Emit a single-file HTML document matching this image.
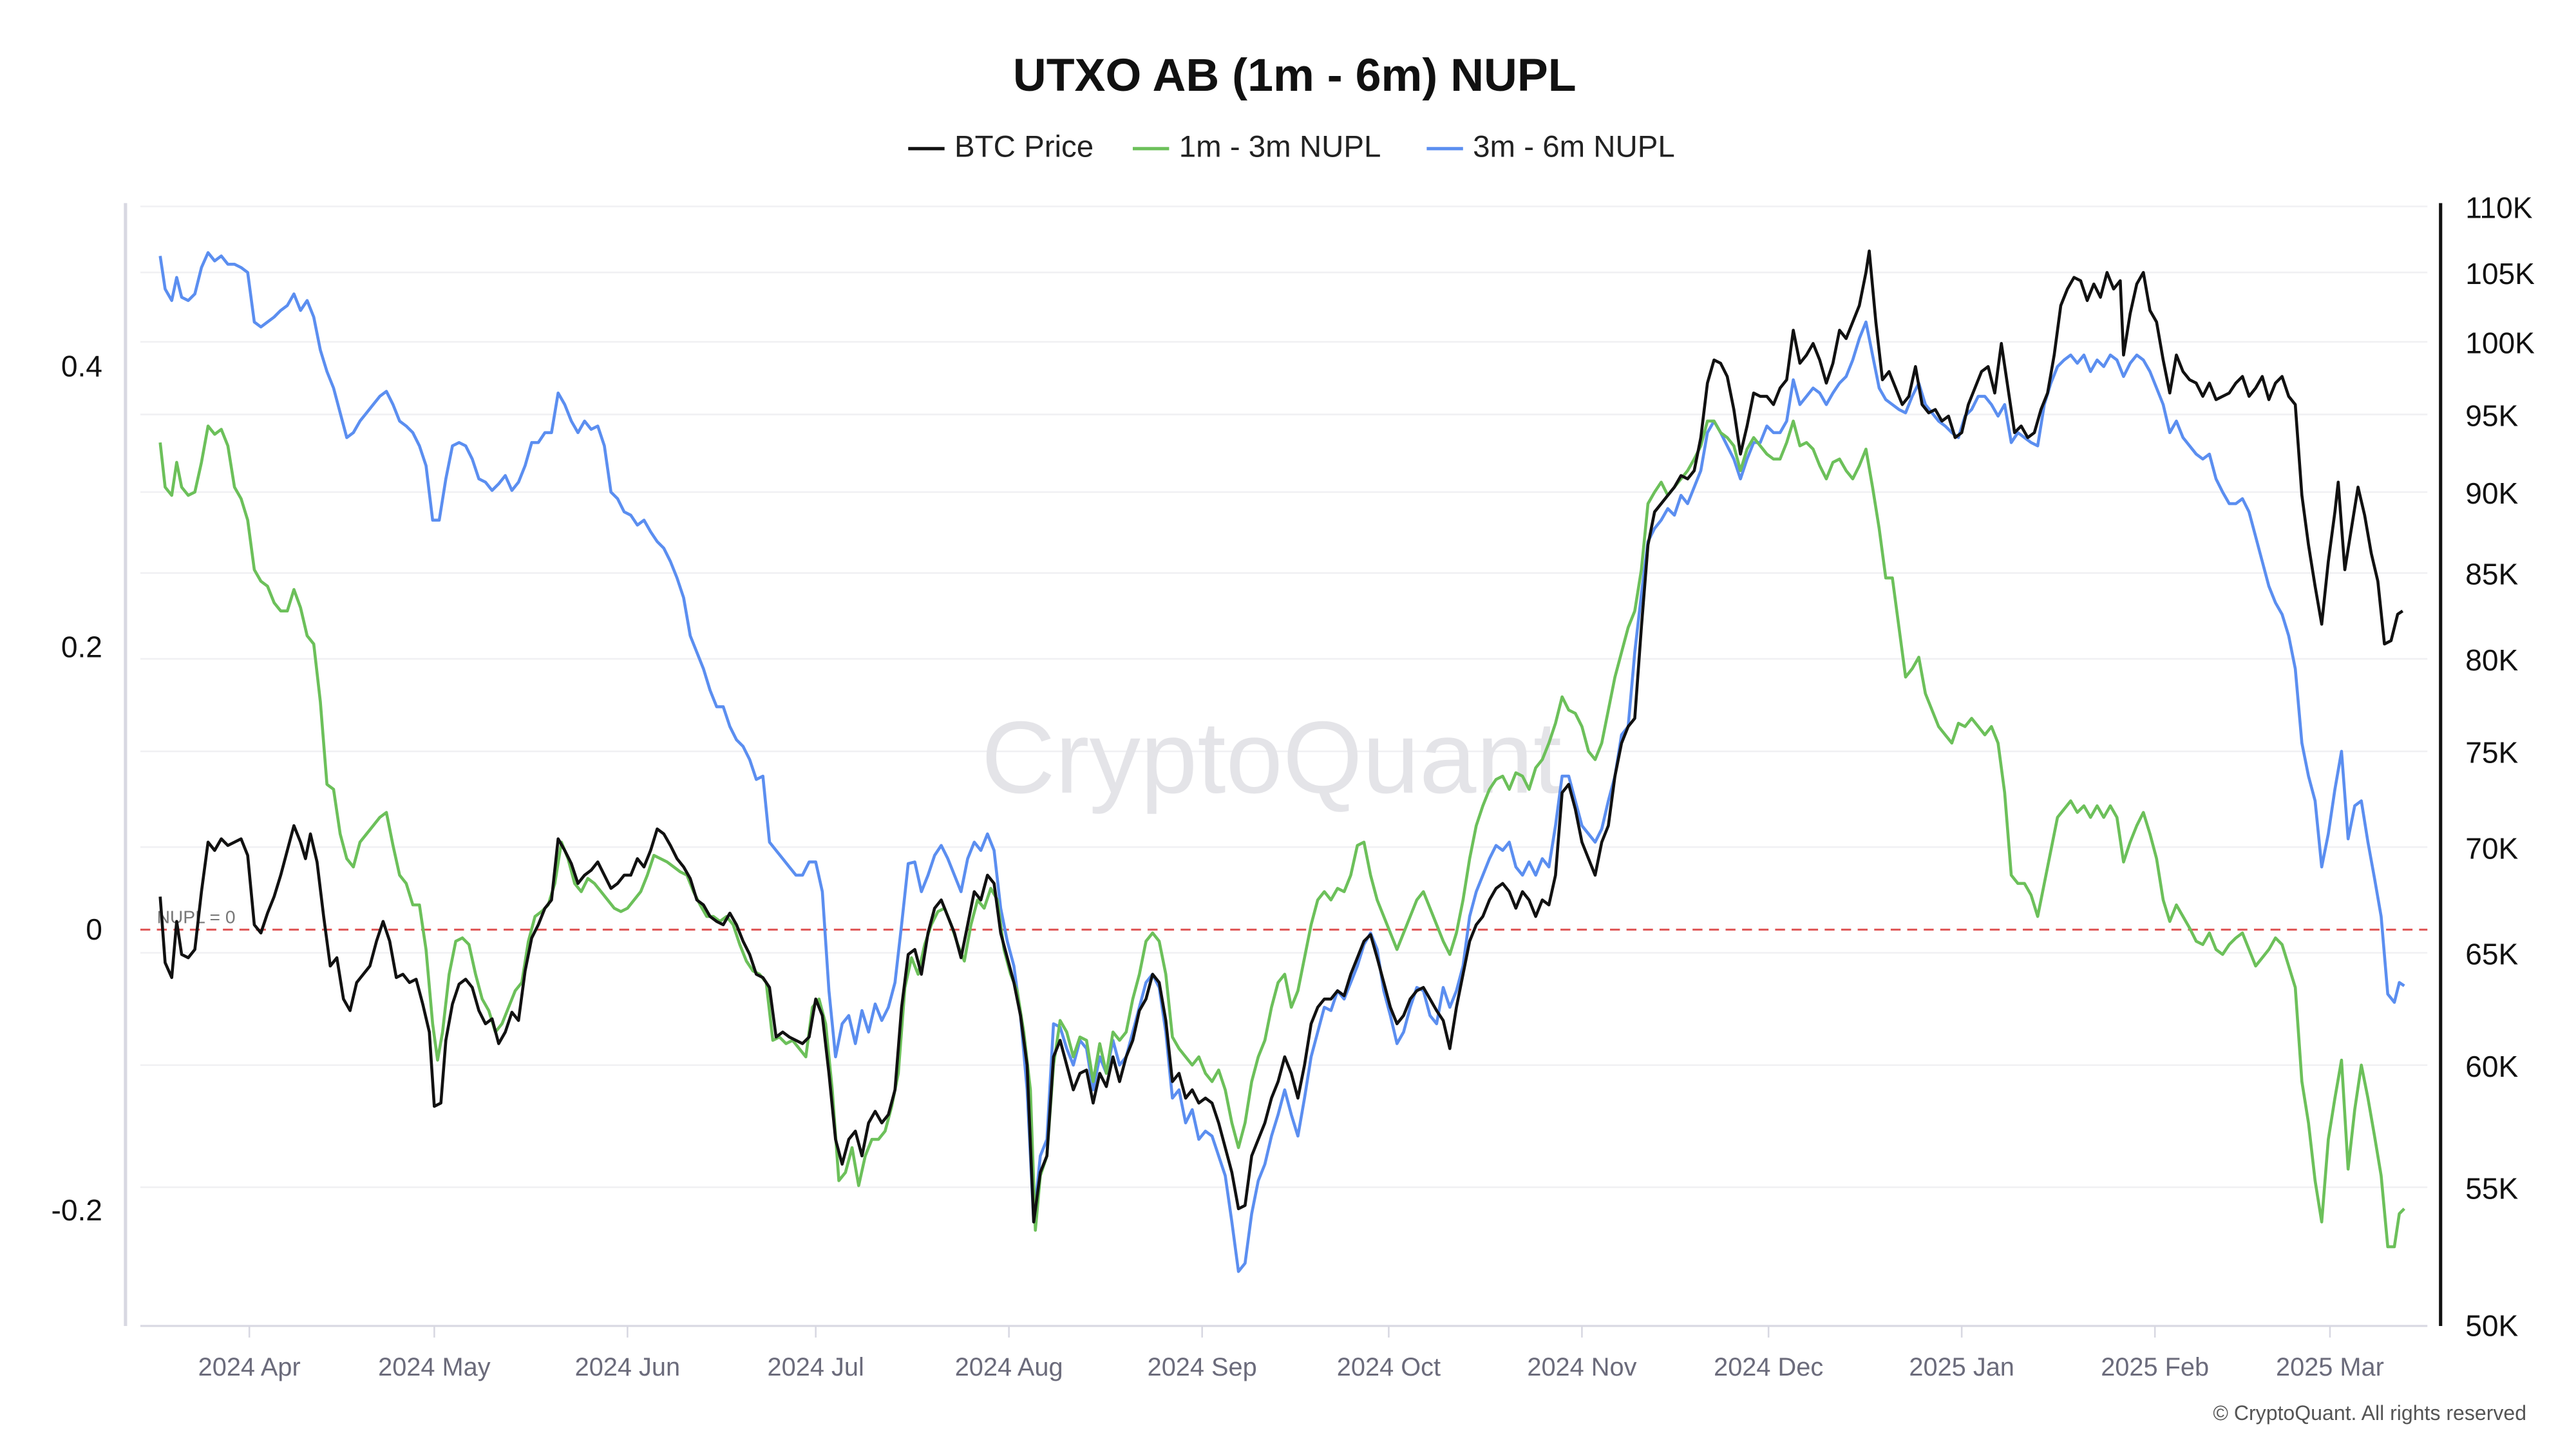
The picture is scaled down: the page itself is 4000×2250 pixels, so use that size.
<!DOCTYPE html>
<html><head><meta charset="utf-8"><style>
html,body{margin:0;padding:0;background:#fff;}
svg{display:block;}
text{font-family:"Liberation Sans",sans-serif;}
</style></head><body>
<svg width="4000" height="2250" viewBox="0 0 1560 877.5" xmlns="http://www.w3.org/2000/svg">
<rect width="1560" height="877.5" fill="#fff"/>
<text x="784" y="55" text-anchor="middle" font-size="28" font-weight="bold" fill="#111">UTXO AB (1m - 6m) NUPL</text>
<line x1="550" y1="90" x2="572" y2="90" stroke="#111" stroke-width="2"/>
<text x="578" y="95" font-size="18.5" fill="#222">BTC Price</text>
<line x1="686" y1="90" x2="708" y2="90" stroke="#6cc05a" stroke-width="2"/>
<text x="714" y="95" font-size="18.5" fill="#222">1m - 3m NUPL</text>
<line x1="864" y1="90" x2="886" y2="90" stroke="#5b8ef0" stroke-width="2"/>
<text x="892" y="95" font-size="18.5" fill="#222">3m - 6m NUPL</text>
<g stroke="#f0f0f3" stroke-width="1">
<line x1="85" y1="125" x2="1470" y2="125"/><line x1="85" y1="165" x2="1470" y2="165"/><line x1="85" y1="207" x2="1470" y2="207"/><line x1="85" y1="251" x2="1470" y2="251"/><line x1="85" y1="298" x2="1470" y2="298"/><line x1="85" y1="347" x2="1470" y2="347"/><line x1="85" y1="399" x2="1470" y2="399"/><line x1="85" y1="455" x2="1470" y2="455"/><line x1="85" y1="513" x2="1470" y2="513"/><line x1="85" y1="577" x2="1470" y2="577"/><line x1="85" y1="645" x2="1470" y2="645"/><line x1="85" y1="719" x2="1470" y2="719"/>
</g>
<text x="770" y="480" text-anchor="middle" font-size="62" fill="#e4e4e8">CryptoQuant</text>
<line x1="76" y1="123" x2="76" y2="803" stroke="#d8d8e2" stroke-width="2"/>
<line x1="1478" y1="123" x2="1478" y2="803" stroke="#111" stroke-width="2"/>
<line x1="85" y1="803" x2="1470" y2="803" stroke="#d8d8e2" stroke-width="1.2"/>
<g font-size="18" fill="#111" text-anchor="end">
<text x="62" y="228">0.4</text><text x="62" y="398">0.2</text><text x="62" y="569">0</text><text x="62" y="739">-0.2</text>
</g>
<g font-size="18" fill="#111">
<text x="1493" y="132">110K</text><text x="1493" y="172">105K</text><text x="1493" y="214">100K</text><text x="1493" y="258">95K</text><text x="1493" y="305">90K</text><text x="1493" y="354">85K</text><text x="1493" y="406">80K</text><text x="1493" y="462">75K</text><text x="1493" y="520">70K</text><text x="1493" y="584">65K</text><text x="1493" y="652">60K</text><text x="1493" y="726">55K</text><text x="1493" y="809">50K</text>
</g>
<g stroke="#d8d8e2" stroke-width="1">
<line x1="151" y1="803" x2="151" y2="810"/><line x1="263" y1="803" x2="263" y2="810"/><line x1="380" y1="803" x2="380" y2="810"/><line x1="494" y1="803" x2="494" y2="810"/><line x1="611" y1="803" x2="611" y2="810"/><line x1="728" y1="803" x2="728" y2="810"/><line x1="841" y1="803" x2="841" y2="810"/><line x1="958" y1="803" x2="958" y2="810"/><line x1="1071" y1="803" x2="1071" y2="810"/><line x1="1188" y1="803" x2="1188" y2="810"/><line x1="1305" y1="803" x2="1305" y2="810"/><line x1="1411" y1="803" x2="1411" y2="810"/>
</g>
<g font-size="15.5" fill="#6b6b7b" text-anchor="middle">
<text x="151" y="833">2024 Apr</text><text x="263" y="833">2024 May</text><text x="380" y="833">2024 Jun</text><text x="494" y="833">2024 Jul</text><text x="611" y="833">2024 Aug</text><text x="728" y="833">2024 Sep</text><text x="841" y="833">2024 Oct</text><text x="958" y="833">2024 Nov</text><text x="1071" y="833">2024 Dec</text><text x="1188" y="833">2025 Jan</text><text x="1305" y="833">2025 Feb</text><text x="1411" y="833">2025 Mar</text>
</g>
<line x1="85" y1="563" x2="1470" y2="563" stroke="#e05a5a" stroke-width="1.2" stroke-dasharray="6,4"/>
<text x="95" y="559" font-size="11" fill="#777">NUPL = 0</text>
<text x="1530" y="860" text-anchor="end" font-size="12.5" fill="#555">© CryptoQuant. All rights reserved</text>
<g fill="none" stroke-width="1.8" stroke-linejoin="round">
<polyline stroke="#5b8ef0" points="97,155 100,175 104,182 107,168 110,180 114,182 118,178 122,162 126,153 130,158 134,155 138,160 142,160 146,162 150,165 154,195 158,198 162,195 166,192 170,188 174,185 178,178 182,188 186,182 190,192 194,212 198,225 202,235 206,250 210,265 214,262 218,255 222,250 226,245 230,240 234,237 238,245 242,255 246,258 250,262 254,270 258,282 262,315 266,315 270,290 274,270 278,268 282,270 286,278 290,290 294,292 298,297 302,293 306,288 310,297 314,292 318,282 322,268 326,268 330,262 334,262 338,238 342,245 346,255 350,262 354,255 358,260 362,258 366,270 370,298 374,302 378,310 382,312 386,318 390,315 394,322 398,328 402,332 406,340 410,350 414,362 418,385 422,395 426,405 430,418 434,428 438,428 442,440 446,448 450,452 454,460 458,472 462,470 466,510 470,515 474,520 478,525 482,530 486,530 490,522 494,522 498,540 502,600 506,640 510,620 514,615 518,632 522,612 526,625 530,608 534,618 538,610 542,595 546,560 550,523 554,522 558,540 562,530 566,518 570,512 574,520 578,530 582,540 586,520 590,510 594,515 598,505 602,515 606,550 610,570 614,585 618,615 622,660 626,740 630,700 634,690 638,620 642,622 646,635 650,645 654,630 658,635 662,660 666,640 670,650 674,630 678,645 682,640 686,625 690,610 694,595 698,590 702,598 706,625 710,665 714,660 718,680 722,672 726,690 730,685 734,688 738,700 742,712 746,740 750,770 754,765 758,735 762,715 766,705 770,688 774,675 778,660 782,675 786,688 790,665 794,640 798,625 802,610 806,612 810,600 814,605 818,595 822,585 826,572 830,565 834,575 838,600 842,615 846,632 850,625 854,610 858,598 862,600 866,615 870,620 874,598 878,610 882,600 886,585 890,555 894,540 898,530 902,520 906,512 910,515 914,510 918,525 922,530 926,522 930,530 934,520 938,525 942,500 946,470 950,470 954,485 958,500 962,505 966,510 970,502 974,485 978,470 982,445 986,440 990,395 994,360 998,328 1002,320 1006,315 1010,308 1014,312 1018,300 1022,305 1026,295 1030,285 1034,262 1038,255 1042,262 1046,270 1050,278 1054,290 1058,278 1062,268 1066,268 1070,258 1074,262 1078,262 1082,255 1086,230 1090,245 1094,240 1098,235 1102,238 1106,245 1110,238 1114,232 1118,228 1122,218 1126,205 1130,195 1134,215 1138,235 1142,242 1146,245 1150,248 1154,250 1158,240 1162,232 1166,245 1170,250 1174,255 1178,258 1182,262 1186,265 1190,252 1194,248 1198,240 1202,240 1206,245 1210,252 1214,245 1218,268 1222,262 1226,265 1230,268 1234,270 1238,245 1242,232 1246,222 1250,218 1254,215 1258,220 1262,215 1266,225 1270,218 1274,222 1278,215 1282,218 1286,228 1290,220 1294,215 1298,218 1302,225 1306,235 1310,245 1314,262 1318,255 1322,265 1326,270 1330,275 1334,278 1338,275 1342,290 1346,298 1350,305 1354,305 1358,302 1362,310 1366,325 1370,340 1374,355 1378,365 1382,372 1386,385 1390,405 1394,450 1398,470 1402,485 1406,525 1410,505 1414,478 1418,455 1422,508 1426,488 1430,485 1434,510 1438,532 1442,555 1446,602 1450,607 1453,595 1456,597"/>
<polyline stroke="#6cc05a" points="97,268 100,295 104,300 107,280 110,295 114,300 118,298 122,280 126,258 130,263 134,260 138,270 142,295 146,302 150,315 154,345 158,352 162,355 166,365 170,370 174,370 178,357 182,368 186,385 190,390 194,425 198,475 202,478 206,505 210,520 214,525 218,510 222,505 226,500 230,495 234,492 238,512 242,530 246,535 250,548 254,548 258,575 262,620 265,642 268,625 272,590 276,570 280,568 284,572 288,590 292,605 296,612 300,625 304,620 308,610 312,600 316,595 320,570 324,555 328,552 332,548 336,535 340,510 344,520 348,535 352,540 356,532 360,535 364,540 368,545 372,550 376,552 380,550 384,545 388,540 392,530 396,518 400,520 404,522 408,525 412,528 416,530 420,540 424,548 428,555 432,555 436,558 440,555 444,560 448,572 452,582 456,588 460,590 464,595 468,630 472,628 476,632 480,630 484,635 488,640 492,610 496,605 500,620 504,660 508,715 512,710 516,695 520,718 524,700 528,690 532,690 536,685 540,670 544,650 548,598 552,580 556,590 560,572 564,560 568,552 572,550 576,560 580,572 584,582 588,560 592,545 596,550 600,538 604,545 608,575 612,590 616,600 620,625 624,660 627,745 630,712 634,700 638,645 642,618 646,625 650,640 654,628 658,630 662,655 666,632 670,650 674,625 678,630 682,625 686,605 690,590 694,570 698,565 702,570 706,590 710,628 714,635 718,640 722,645 726,640 730,650 734,655 738,648 742,660 746,680 750,695 754,680 758,655 762,640 766,630 770,610 774,595 778,590 782,610 786,600 790,580 794,560 798,545 802,540 806,545 810,538 814,540 818,530 822,512 826,510 830,530 834,545 838,555 842,565 846,575 850,565 854,555 858,545 862,540 866,550 870,560 874,570 878,578 882,565 886,545 890,520 894,500 898,488 902,478 906,472 910,470 914,478 918,468 922,470 926,478 930,465 934,460 938,450 942,438 946,422 950,430 954,432 958,440 962,455 966,460 970,450 974,430 978,410 982,395 986,380 990,370 994,345 998,305 1002,298 1006,292 1010,300 1014,295 1018,290 1022,285 1026,278 1030,270 1034,255 1038,255 1042,262 1046,265 1050,270 1054,285 1058,272 1062,265 1066,270 1070,275 1074,278 1078,278 1082,268 1086,255 1090,270 1094,268 1098,272 1102,282 1106,290 1110,280 1114,278 1118,285 1122,290 1126,282 1130,272 1134,295 1138,320 1142,350 1146,350 1150,380 1154,410 1158,405 1162,398 1166,420 1170,430 1174,440 1178,445 1182,450 1186,438 1190,440 1194,435 1198,440 1202,445 1206,440 1210,450 1214,480 1218,530 1222,535 1226,535 1230,542 1234,555 1238,535 1242,515 1246,495 1250,490 1254,485 1258,492 1262,488 1266,495 1270,488 1274,495 1278,488 1282,495 1286,522 1290,510 1294,500 1298,492 1302,505 1306,520 1310,545 1314,558 1318,548 1322,555 1326,562 1330,570 1334,572 1338,565 1342,575 1346,578 1350,572 1354,568 1358,565 1362,575 1366,585 1370,580 1374,575 1378,568 1382,572 1386,585 1390,598 1394,655 1398,680 1402,715 1406,740 1410,690 1414,665 1418,642 1422,708 1426,672 1430,645 1434,665 1438,688 1442,712 1446,755 1450,755 1453,735 1456,732"/>
<polyline stroke="#111" points="97,543 100,583 104,592 107,558 110,578 114,580 118,575 122,540 126,510 130,515 134,508 138,512 142,510 146,508 150,518 154,560 158,565 162,553 166,543 170,530 174,515 178,500 182,510 185,520 188,505 192,522 196,555 200,585 204,580 208,605 212,612 216,595 220,590 224,585 228,570 232,558 236,570 240,592 244,590 248,595 252,593 256,608 260,625 263,670 267,668 270,630 274,608 278,596 282,593 286,598 290,612 294,620 298,617 302,632 306,625 310,613 314,618 318,588 322,568 326,560 330,550 334,545 338,508 342,515 346,523 350,535 354,530 358,527 362,522 366,530 370,538 374,535 378,530 382,530 386,520 390,525 394,515 398,502 402,505 406,512 410,520 414,525 418,532 422,545 426,548 430,555 434,558 438,560 442,553 446,560 450,570 454,578 458,590 462,592 466,598 470,628 474,625 478,628 482,630 486,632 490,628 494,605 498,615 502,650 506,690 510,705 514,690 518,685 522,700 526,680 530,673 534,680 538,675 542,660 546,610 550,578 554,575 558,590 562,565 566,550 570,545 574,555 578,565 582,580 586,560 590,540 594,545 598,530 602,535 606,565 610,580 614,595 618,615 622,645 626,740 630,710 634,700 638,640 642,630 646,645 650,660 654,650 658,648 662,668 666,650 670,658 674,640 678,655 682,640 686,630 690,612 694,605 698,590 702,595 706,618 710,655 714,650 718,665 722,660 726,668 730,665 734,668 738,680 742,695 746,710 750,732 754,730 758,700 762,690 766,680 770,665 774,655 778,640 782,650 786,665 790,645 794,620 798,610 802,605 806,605 810,600 814,603 818,590 822,580 826,570 830,566 834,580 838,595 842,610 846,620 850,615 854,605 858,600 862,598 866,605 870,612 874,618 878,635 882,610 886,590 890,570 894,560 898,555 902,545 906,538 910,535 914,540 918,550 922,540 926,545 930,555 934,545 938,548 942,530 946,480 950,475 954,490 958,510 962,520 966,530 970,510 974,500 978,470 982,450 986,440 990,435 994,380 998,330 1002,310 1006,305 1010,300 1014,295 1018,288 1022,290 1026,285 1030,265 1034,232 1038,218 1042,220 1046,228 1050,248 1054,275 1058,258 1062,238 1066,240 1070,240 1074,245 1078,235 1082,230 1086,200 1090,220 1094,215 1098,208 1102,218 1106,232 1110,220 1114,200 1118,205 1122,195 1126,185 1130,165 1132,152 1136,195 1140,230 1144,225 1148,235 1152,245 1156,240 1160,222 1164,245 1168,250 1172,248 1176,255 1180,252 1184,265 1188,262 1192,245 1196,235 1200,225 1204,222 1208,238 1212,208 1216,235 1220,262 1224,258 1228,265 1232,262 1236,248 1240,238 1244,215 1248,185 1252,175 1256,168 1260,170 1264,182 1268,172 1272,180 1276,165 1280,175 1284,170 1286,215 1290,190 1294,172 1298,165 1302,188 1306,195 1310,218 1314,238 1318,215 1322,225 1326,230 1330,232 1334,240 1338,232 1342,242 1346,240 1350,238 1354,232 1358,228 1362,240 1366,235 1370,228 1374,242 1378,232 1382,228 1386,240 1390,245 1394,300 1398,330 1402,355 1406,378 1410,340 1414,310 1416,292 1420,345 1424,320 1428,295 1432,312 1436,335 1440,352 1444,390 1448,388 1452,372 1455,370"/>
</g>
</svg>
</body></html>
